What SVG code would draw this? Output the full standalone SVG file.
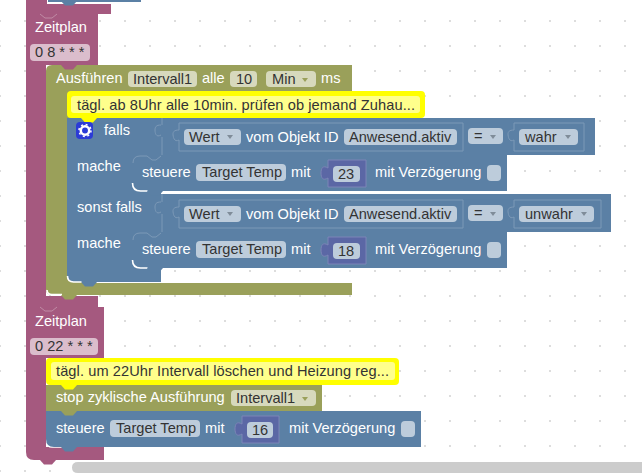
<svg xmlns="http://www.w3.org/2000/svg" width="642" height="473" viewBox="0 0 642 473">
<style>
text{font-family:"Liberation Sans",Arial,sans-serif;font-size:14.6px}
.w{fill:#fff}.d{fill:#333}
.mag{fill:#A5597F}.oli{fill:#9AA05A}.blu{fill:#5B80A5}.pur{fill:#5B67A5;stroke:#7C85B7;stroke-width:1}
.fm{fill:#DBBDCC}.fo{fill:#D7D9BD}.fb{fill:#BDCCDB}
.ol{fill:none;stroke:#7C99B7;stroke-width:1}
.hl{fill:none;stroke:#fff;stroke-width:1.6}
.arr{fill:#7f8c99}
</style>
<defs>
<pattern id="grid" width="25" height="25" patternUnits="userSpaceOnUse" x="-1" y="-5"><rect x="0" y="0" width="2" height="2" fill="#dddddd"/></pattern>
<path id="bump" d="M0 0l4 4.500h8l4-4.500z"/>
<path id="tab" d="M0 0c-5 0-6 2-6 5s1 8 6 5z"/>
</defs>
<rect width="642" height="473" fill="#fff"/>
<rect width="642" height="473" fill="url(#grid)"/>

<g id="top-fragment">
<path class="mag" d="M26 0H47V4H111V14H26z"/>
<rect x="47" y="0" width="94" height="3" fill="#fff"/>
<rect x="48" y="0" width="93" height="2" class="blu"/>
<use href="#bump" x="61" y="1" class="blu"/>
</g>

<g id="zeitplan-1">
<path class="mag" d="M26 14H98V65H46V296H98V307H26z"/>
<path d="M40 14l5 4h7l5-4" fill="none" stroke="#C08BA5"/>
<text x="35" y="32" class="w">Zeitplan</text>
<rect x="30" y="44" width="60" height="17" rx="4" class="fm"/>
<text x="35" y="57" class="d">0 8 * * *</text>
<use href="#bump" x="61" y="65" class="mag"/>
</g>

<g id="ausfuehren">
<path class="oli" d="M52 65H352V91H88V283H352V295H52Q46 295 46 289V71Q46 65 52 65z"/>
<rect x="67" y="91" width="21" height="192" class="oli"/>
<use href="#bump" x="61" y="65" class="mag"/>
<text x="56" y="83" class="w">Ausführen</text>
<rect x="128" y="71" width="69" height="16" rx="4" class="fo"/>
<text x="133" y="84" class="d">Intervall1</text>
<text x="202" y="83" class="w">alle</text>
<rect x="230" y="71" width="27" height="16" rx="4" class="fo"/>
<text x="236" y="84" class="d">10</text>
<rect x="266" y="71" width="50" height="16" rx="4" class="fo"/>
<text x="272" y="84" class="d">Min</text>
<path d="M302 78h6l-3 4z" fill="#9AA05A"/>
<text x="321" y="83" class="w">ms</text>
<path class="hl" d="M47 290q0 4.500 5 4.500h10"/>
</g>

<g id="kommentar-1">
<rect x="67" y="91" width="358" height="27" rx="4" fill="#ffff00"/>
<rect x="71" y="96" width="349" height="17" rx="3" fill="#FFFF8C"/>
<text x="77" y="110" fill="#333" textLength="338">tägl. ab 8Uhr alle 10min. prüfen ob jemand Zuhau...</text>
</g>

<g id="falls">
<path class="blu" d="M67 118H595V155H161V282H75Q67 282 67 274z"/>
<path class="blu" d="M161 155H507V191H161z"/>
<path class="blu" d="M161 194H611V232H161z"/>
<use href="#bump" x="81" y="118" fill="#ffff00"/>
<rect x="76" y="122" width="17" height="17" rx="4" fill="#2B3BD6"/>
<circle cx="85" cy="130.500" r="4.200" fill="none" stroke="#fff" stroke-width="2.500"/>
<circle cx="85" cy="130.500" r="6" fill="none" stroke="#fff" stroke-width="1.500" stroke-dasharray="2 2.700"/>
<text x="104" y="135" class="w">falls</text>
<text x="77" y="171" class="w">mache</text>
<text x="77" y="212" class="w">sonst falls</text>
<text x="77" y="248" class="w">mache</text>
<path class="ol" d="M162 118V125M162 137V155M162 194V202M162 214V232"/>
<use href="#tab" x="161" y="125" class="blu"/>
<use href="#tab" x="161" y="202" class="blu"/>
<path d="M161 125c-5 0-6 2-6 5s1 8 6 5M161 202c-5 0-6 2-6 5s1 8 6 5" class="ol"/>
<use href="#bump" x="81" y="282" class="blu"/>
<path class="hl" d="M67.500 276q0 6 6 6h8"/>
</g>

<g id="wert-1">
<path class="ol" d="M179 123H463V151H179V140M179 130V123"/>
<path class="ol" d="M179 130c-5 0-6 2-6 4s1 9 6 6"/>
<rect x="184" y="129" width="57" height="16" rx="4" class="fb"/>
<text x="189" y="142" class="d">Wert</text>
<path class="arr" d="M227 135h6l-3 4z"/>
<text x="246" y="142" class="w">vom Objekt ID</text>
<rect x="344" y="129" width="113" height="16" rx="4" class="fb"/>
<text x="349" y="142" class="d">Anwesend.aktiv</text>
<rect x="468" y="128" width="35" height="16" rx="4" class="fb"/>
<text x="474" y="141" class="d">=</text>
<path class="arr" d="M490 135h6l-3 4z"/>
<path class="ol" d="M514 123H584V151H514V140M514 130V123"/>
<path class="ol" d="M514 130c-5 0-6 2-6 4s1 9 6 6"/>
<rect x="519" y="129" width="59" height="16" rx="4" class="fb"/>
<text x="525" y="142" class="d">wahr</text>
<path class="arr" d="M565 135h6l-3 4z"/>
</g>

<g id="steuere-1">
<path class="blu" d="M132 163Q132 155 140 155H147L152 159H156L161 155V191H140Q132 191 132 183z"/>
<path class="ol" d="M133 163Q133 156 140 156H147L152 160H156L161 156"/>
<path class="hl" d="M132.500 183q0 8 8 8h7"/>
<use href="#bump" x="147" y="191" class="blu"/>
<text x="142" y="177" class="w">steuere</text>
<rect x="196" y="164" width="90" height="17" rx="4" class="fb"/>
<text x="202" y="177" class="d">Target Temp</text>
<text x="291" y="177" class="w">mit</text>
<path class="pur" d="M328 160H366V187H328V178c-5 3-7 0-7-5s2-8 7-5z"/>
<rect x="333" y="166" width="27" height="16" rx="4" class="fb"/>
<text x="338" y="179" class="d">23</text>
<text x="375" y="177" class="w">mit Verzögerung</text>
<rect x="487" y="165" width="14" height="16" rx="4" class="fb"/>
</g>

<g id="wert-2">
<path class="ol" d="M179 200H463V228H179V217M179 207V200"/>
<path class="ol" d="M179 207c-5 0-6 2-6 4s1 9 6 6"/>
<rect x="184" y="206" width="57" height="16" rx="4" class="fb"/>
<text x="189" y="219" class="d">Wert</text>
<path class="arr" d="M227 212h6l-3 4z"/>
<text x="246" y="219" class="w">vom Objekt ID</text>
<rect x="344" y="206" width="113" height="16" rx="4" class="fb"/>
<text x="349" y="219" class="d">Anwesend.aktiv</text>
<rect x="468" y="205" width="35" height="16" rx="4" class="fb"/>
<text x="474" y="218" class="d">=</text>
<path class="arr" d="M490 212h6l-3 4z"/>
<path class="ol" d="M514 200H601V228H514V217M514 207V200"/>
<path class="ol" d="M514 207c-5 0-6 2-6 4s1 9 6 6"/>
<rect x="519" y="206" width="75" height="16" rx="4" class="fb"/>
<text x="525" y="219" class="d">unwahr</text>
<path class="arr" d="M581 212h6l-3 4z"/>
</g>

<g id="steuere-2">
<path class="blu" d="M132 240Q132 232 140 232H147L152 236H156L161 232H507V268H140Q132 268 132 260z"/>
<path class="ol" d="M133 240Q133 233 140 233H147L152 237H156L161 233"/>
<path class="hl" d="M132.500 260q0 8 8 8h7"/>
<use href="#bump" x="147" y="268" class="blu"/>
<text x="142" y="254" class="w">steuere</text>
<rect x="196" y="241" width="90" height="17" rx="4" class="fb"/>
<text x="202" y="254" class="d">Target Temp</text>
<text x="291" y="254" class="w">mit</text>
<path class="pur" d="M328 237H366V264H328V255c-5 3-7 0-7-5s2-8 7-5z"/>
<rect x="333" y="243" width="27" height="16" rx="4" class="fb"/>
<text x="338" y="256" class="d">18</text>
<text x="375" y="254" class="w">mit Verzögerung</text>
<rect x="487" y="242" width="14" height="16" rx="4" class="fb"/>
</g>

<use href="#bump" x="61" y="295" class="oli"/>

<g id="zeitplan-2">
<path class="mag" d="M26 307H104V358H46V447H104V460H34Q26 460 26 452z"/>
<path d="M40 307l5 4h7l5-4" fill="none" stroke="#C08BA5"/>
<text x="35" y="326" class="w">Zeitplan</text>
<rect x="30" y="338" width="68" height="17" rx="4" class="fm"/>
<text x="35" y="351" class="d">0 22 * * *</text>
<use href="#bump" x="40" y="460" class="mag"/>
<path class="hl" d="M47 442q0 5 5 5h10"/>
</g>

<g id="kommentar-2">
<rect x="46" y="358" width="353" height="27" rx="4" fill="#ffff00"/>
<rect x="51" y="362" width="344" height="18" rx="3" fill="#FFFF8C"/>
<text x="56" y="376" fill="#333" textLength="333">tägl. um 22Uhr Intervall löschen und Heizung reg...</text>
</g>

<g id="stop">
<rect x="46" y="385" width="276" height="26" class="oli"/>
<use href="#bump" x="61" y="385" fill="#ffff00"/>
<text x="56" y="402" class="w">stop zyklische Ausführung</text>
<rect x="231" y="390" width="85" height="16" rx="4" class="fo"/>
<text x="236" y="403" class="d">Intervall1</text>
<path d="M302 397h6l-3 4z" fill="#9AA05A"/>
</g>

<g id="steuere-3">
<path class="blu" d="M46 411H421V447H54Q46 447 46 439z"/>
<use href="#bump" x="61" y="411" class="oli"/>
<use href="#bump" x="61" y="447" class="blu"/>
<text x="56" y="433" class="w">steuere</text>
<rect x="110" y="420" width="90" height="17" rx="4" class="fb"/>
<text x="116" y="433" class="d">Target Temp</text>
<text x="205" y="433" class="w">mit</text>
<path class="pur" d="M242 416H279V443H242V434c-5 3-7 0-7-5s2-8 7-5z"/>
<rect x="247" y="422" width="26" height="16" rx="4" class="fb"/>
<text x="252" y="435" class="d">16</text>
<text x="289" y="433" class="w">mit Verzögerung</text>
<rect x="401" y="421" width="14" height="16" rx="4" class="fb"/>
</g>

<path id="scrollbar" d="M78 462H642V473H78Q72 473 72 467.500Q72 462 78 462z" fill="#ccc"/>
</svg>
